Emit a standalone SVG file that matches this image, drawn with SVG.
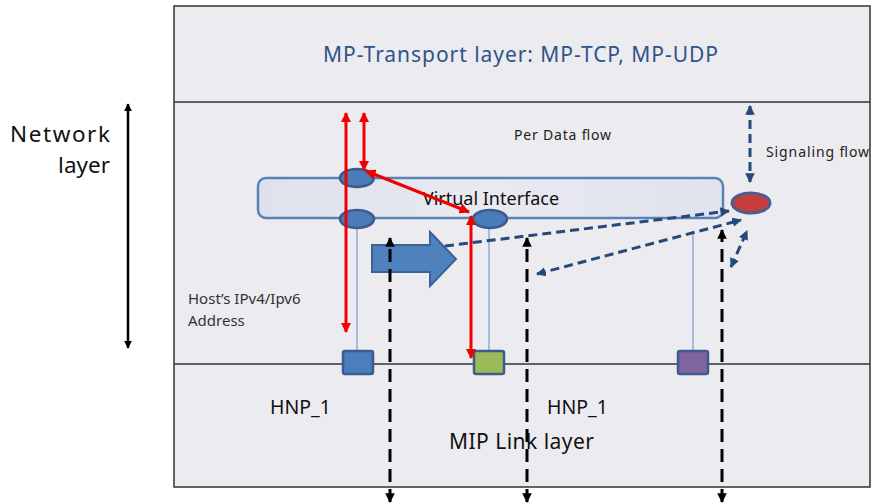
<svg xmlns="http://www.w3.org/2000/svg" width="871" height="504" viewBox="0 0 871 504">
<defs>
<style>
.t{font-family:"Noto Sans","Liberation Sans",sans-serif;}
.red{stroke:#f00000;stroke-width:3;fill:none}
.bd{stroke:#24497a;stroke-width:3;fill:none;stroke-dasharray:9 5}
.kd{stroke:#000;stroke-width:3;fill:none;stroke-dasharray:13 7}
.thin{stroke:#8faad6;stroke-width:1.5}
.node{stroke:#3b5c8c;stroke-width:2.5}
</style>
<linearGradient id="vg" x1="0" x2="1" y1="0" y2="0">
<stop offset="0" stop-color="#dde2ec"/>
<stop offset="0.5" stop-color="#e9e9f1"/>
<stop offset="1" stop-color="#dfe3ee"/>
</linearGradient>
<marker id="ar" viewBox="0 0 10 10" refX="9" refY="5" markerWidth="3.5" markerHeight="3.5" orient="auto-start-reverse"><path d="M0,0L10,5L0,10z" fill="#f00000"/></marker>
<marker id="ab" viewBox="0 0 10 10" refX="9" refY="5" markerWidth="3.2" markerHeight="3.2" orient="auto-start-reverse"><path d="M0,0L10,5L0,10z" fill="#24497a"/></marker>
<marker id="ak" viewBox="0 0 10 10" refX="9" refY="5" markerWidth="3.2" markerHeight="3.2" orient="auto-start-reverse"><path d="M0,0L10,5L0,10z" fill="#000"/></marker>
</defs>
<rect width="871" height="504" fill="#fff"/>
<g id="frame">
<rect x="174" y="6" width="696" height="481" fill="#ecebef" stroke="#333" stroke-width="1.5"/>
<line x1="174" y1="102" x2="870" y2="102" stroke="#333" stroke-width="1.5"/>
<line x1="174" y1="364" x2="870" y2="364" stroke="#333" stroke-width="1.5"/>
</g>
<text class="t" x="323" y="62" font-size="21" fill="#2f5488" textLength="395">MP-Transport layer: MP-TCP, MP-UDP</text>
<g id="network-layer-label">
<text class="t" x="10" y="142" font-size="22.5" fill="#111" textLength="100">Network</text>
<text class="t" x="110" y="173" font-size="22.5" fill="#111" text-anchor="end">layer</text>
</g>
<g id="virtual-interface">
<rect x="258" y="178" width="465" height="40" rx="8" fill="url(#vg)" stroke="#5a82b6" stroke-width="2.5"/>
<text class="t" x="491" y="205" font-size="18" fill="#111" text-anchor="middle">Virtual Interface</text>
</g>
<g id="thin-lines">
<line class="thin" x1="357" y1="226" x2="357" y2="351"/>
<line class="thin" x1="489" y1="226" x2="489" y2="351"/>
<line class="thin" x1="693" y1="231" x2="693" y2="351"/>
</g>
<g id="if-top"><ellipse cx="357" cy="178" rx="17" ry="9" fill="#4a7cba" class="node"/></g>
<g id="if-bottom-left"><ellipse cx="357" cy="219" rx="17" ry="9" fill="#4a7cba" class="node"/></g>
<g id="if-bottom-mid"><ellipse cx="490" cy="219" rx="17" ry="9" fill="#4a7cba" class="node"/></g>
<g id="signal-node"><ellipse cx="751" cy="203" rx="19" ry="10" fill="#c83c3c" stroke="#4a5f8f" stroke-width="3"/></g>
<g id="port-blue"><rect x="343" y="351" width="30" height="23" rx="2" fill="#4a7ebf" class="node"/></g>
<g id="port-green"><rect x="474" y="351" width="30" height="23" rx="2" fill="#9bbb59" class="node"/></g>
<g id="port-purple"><rect x="678" y="351" width="30" height="23" rx="2" fill="#8064a2" class="node"/></g>
<g id="big-arrow"><path d="M372,245H430V232L456,259L430,286V272H372Z" fill="#4f81bd" stroke="#3a6296" stroke-width="2"/></g>
<g id="connectors">
<line x1="128" y1="104" x2="128" y2="348" stroke="#000" stroke-width="2.5" marker-start="url(#ak)" marker-end="url(#ak)"/>
<line class="red" x1="346" y1="113" x2="346" y2="332" marker-start="url(#ar)" marker-end="url(#ar)"/>
<line class="red" x1="364" y1="113" x2="364" y2="170" marker-start="url(#ar)" marker-end="url(#ar)"/>
<line class="red" x1="366" y1="171" x2="469" y2="212" marker-start="url(#ar)" marker-end="url(#ar)"/>
<line class="red" x1="471" y1="216" x2="471" y2="358" marker-start="url(#ar)" marker-end="url(#ar)"/>
<line class="kd" x1="390" y1="502" x2="390" y2="238" marker-start="url(#ak)" marker-end="url(#ak)"/>
<line class="kd" x1="527" y1="502" x2="527" y2="238" marker-start="url(#ak)" marker-end="url(#ak)"/>
<line class="kd" x1="722" y1="502" x2="722" y2="230" marker-start="url(#ak)" marker-end="url(#ak)"/>
<line class="bd" x1="445" y1="246" x2="729" y2="211" marker-end="url(#ab)"/>
<line class="bd" x1="537" y1="274" x2="741" y2="220" marker-start="url(#ab)" marker-end="url(#ab)"/>
<line class="bd" x1="731" y1="267" x2="747" y2="231" marker-start="url(#ab)" marker-end="url(#ab)"/>
<line class="bd" x1="750" y1="106" x2="750" y2="182" marker-start="url(#ab)" marker-end="url(#ab)"/>
</g>
<g id="labels">
<text class="t" x="514" y="140" font-size="14" fill="#222" textLength="97">Per Data flow</text>
<text class="t" x="766" y="157" font-size="14" fill="#222" textLength="103">Signaling flow</text>
<text class="t" x="188" y="304" font-size="15" fill="#333">Host’s IPv4/Ipv6</text>
<text class="t" x="188" y="326" font-size="15" fill="#333">Address</text>
<text class="t" x="270" y="414" font-size="19.5" fill="#111">HNP_1</text>
<text class="t" x="547" y="414" font-size="19.5" fill="#111">HNP_1</text>
<text class="t" x="449" y="449" font-size="21" fill="#111" textLength="145">MIP Link layer</text>
</g>
</svg>
